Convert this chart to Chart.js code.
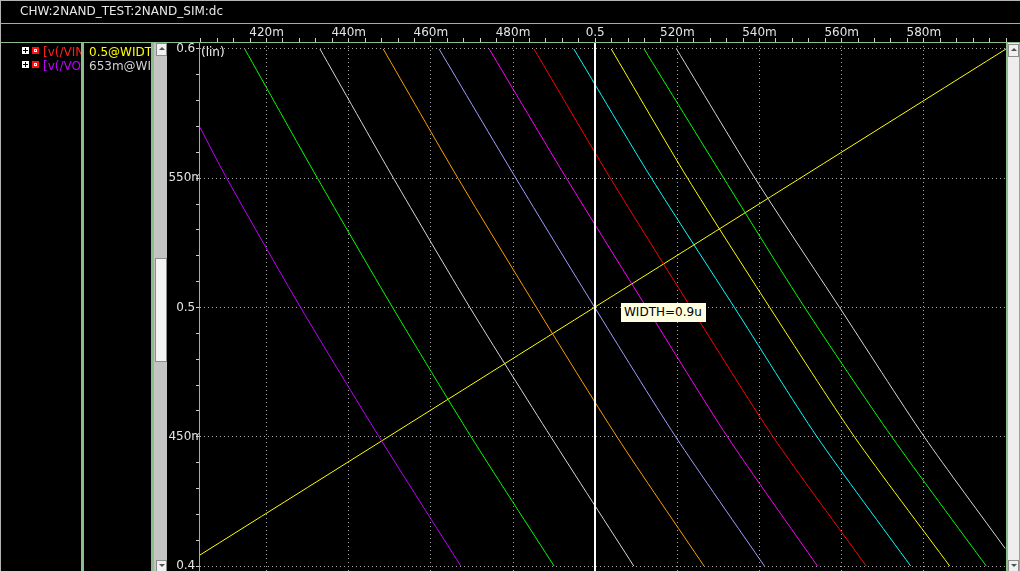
<!DOCTYPE html>
<html>
<head>
<meta charset="utf-8">
<title>CHW:2NAND_TEST:2NAND_SIM:dc</title>
<script src="https://cdn.jsdelivr.net/npm/chart.js@4.4.1/dist/chart.umd.min.js"></script>
<style>
html,body{margin:0;padding:0;background:#000;overflow:hidden}
#wrap{position:relative;width:1020px;height:571px;overflow:hidden;background:#000;font-family:"DejaVu Sans",sans-serif;font-size:12px;line-height:14px;color:#e0e0e0}
#c{position:absolute;left:0;top:0}
.a{position:absolute;white-space:nowrap}
.g{position:absolute;background:#8cbe8c}
.clip{position:absolute;overflow:hidden;white-space:nowrap;height:14px}
.btn{position:absolute;box-sizing:border-box;background:#f0f0f0;border:1px solid #8c8c8c}
.up:after,.dn:after{content:"";position:absolute;left:2px;width:0;height:0;border-left:3px solid transparent;border-right:3px solid transparent}
.up:after{top:3px;border-bottom:3px solid #505050}
.dn:after{top:3px;border-top:3px solid #505050}
.plus{position:absolute;width:7px;height:7px;background:#fff;box-sizing:border-box}
.plus:before{content:"";position:absolute;left:1px;top:3px;width:5px;height:1px;background:#000}
.plus:after{content:"";position:absolute;left:3px;top:1px;width:1px;height:5px;background:#000}
.sq{position:absolute;width:7px;height:7px;background:#ff1010;box-sizing:border-box}
.sq:before{content:"";position:absolute;left:2px;top:2px;width:3px;height:3px;background:#fff}
.sq:after{content:"";position:absolute;left:3px;top:3px;width:1px;height:1px;background:#ff1010}
#cursorLabel{position:absolute;background:#ffffe0;color:#000;height:19px;line-height:19px;padding:0 4px 0 3px;white-space:nowrap}
</style>
</head>
<body>
<div id="wrap">
<canvas id="c" width="1020" height="571"></canvas>

<!-- frame -->
<div class="a" style="left:0;top:0;width:1020px;height:1px;background:#b4b4b4"></div>
<div class="a" style="left:0;top:0;width:1px;height:571px;background:#b4b4b4"></div>
<div class="a" style="left:20px;top:4px;color:#e8e8e8">CHW:2NAND_TEST:2NAND_SIM:dc</div>
<div class="g" style="left:1px;top:23px;width:1019px;height:1px"></div>
<div class="g" style="left:1px;top:42px;width:1019px;height:1px"></div>

<!-- legend panel -->
<div class="plus" style="left:22px;top:47px"></div>
<div class="sq" style="left:32px;top:47px"></div>
<div class="clip" style="left:43px;top:45px;width:38px;color:#ff2020">[v(/VIN)]</div>
<div class="clip" style="left:89px;top:45px;width:62px;color:#ffff00">0.5@WIDTH=0.9u</div>
<div class="plus" style="left:22px;top:61px"></div>
<div class="sq" style="left:32px;top:61px"></div>
<div class="clip" style="left:43px;top:59px;width:38px;color:#c000ff">[v(/VOUT)]</div>
<div class="clip" style="left:89px;top:59px;width:62px;color:#d0d0d0">653m@WIDTH=0.9u</div>

<div class="g" style="left:81px;top:43px;width:3px;height:528px"></div>
<div class="g" style="left:151px;top:43px;width:3px;height:528px"></div>

<!-- left scrollbar -->
<div class="a" style="left:154px;top:43px;width:13px;height:528px;background:#c4c4c4"></div>
<div class="btn up" style="left:156px;top:43px;width:11px;height:13px"></div>
<div class="btn" style="left:155px;top:258px;width:12px;height:104px;background:#f4f4f4"></div>
<div class="btn dn" style="left:156px;top:560px;width:11px;height:12px"></div>

<!-- left axis line and lin label -->
<div class="g" style="left:199px;top:43px;width:1px;height:528px"></div>
<div class="a" style="left:201px;top:45px;color:#f0f0f0">(lin)</div>

<!-- right side -->
<div class="g" style="left:1006px;top:43px;width:2px;height:528px"></div>
<div class="a" style="left:1008px;top:43px;width:11px;height:528px;background:#eeeeee"></div>
<div class="a" style="left:1019px;top:43px;width:1px;height:528px;background:#a0a0a0"></div>
<div class="btn up" style="left:1008px;top:44px;width:11px;height:13px"></div>
<div class="btn dn" style="left:1008px;top:560px;width:11px;height:12px"></div>

<div id="cursorLabel">WIDTH=0.9u</div>
</div>

<script>
// ---- axis ranges (as shown) ----
const xMin = 0.4038, xMax = 0.6;
const yMin = 0.3981, yMax = 0.6027;

// ---- major tick labels ----
const xTickValues = [0.42, 0.44, 0.46, 0.48, 0.5, 0.52, 0.54, 0.56, 0.58];
const xTickLabels = ['420m', '440m', '460m', '480m', '0.5', '520m', '540m', '560m', '580m'];
const yTickValues = [0.4, 0.45, 0.5, 0.55, 0.6];
const yTickLabels = ['0.4', '450m', '0.5', '550m', '0.6'];

// ---- cursor ----
const cursorX = 0.5;
const cursorText = 'WIDTH=0.9u';

// ---- traces [x, y] ----
const vout1  = [[0.4038,0.5697],[0.4103,0.55],[0.4283,0.5],[0.4474,0.45],[0.4673,0.4]];
const vout2  = [[0.4147,0.6],[0.4324,0.55],[0.4507,0.5],[0.4698,0.45],[0.4900,0.4]];
const vout3  = [[0.4330,0.6],[0.4509,0.55],[0.4695,0.5],[0.4892,0.45],[0.5094,0.4]];
const vout4  = [[0.4484,0.6],[0.4666,0.55],[0.4857,0.5],[0.5053,0.45],[0.5265,0.4]];
const vout5  = [[0.4620,0.6],[0.4807,0.55],[0.4999,0.5],[0.5196,0.45],[0.5412,0.4]];
const vout6  = [[0.4742,0.6],[0.4930,0.55],[0.5125,0.5],[0.5322,0.45],[0.5541,0.4]];
const vout7  = [[0.4851,0.6],[0.5037,0.55],[0.5233,0.5],[0.5433,0.45],[0.5660,0.4]];
const vout8  = [[0.4948,0.6],[0.5137,0.55],[0.5339,0.5],[0.5540,0.45],[0.5768,0.4]];
const vout9  = [[0.5039,0.6],[0.5225,0.55],[0.5425,0.5],[0.5631,0.45],[0.5863,0.4]];
const vout10 = [[0.5119,0.6],[0.5313,0.55],[0.5510,0.5],[0.5722,0.45],[0.5952,0.4]];
const vout11 = [[0.5198,0.6],[0.5389,0.55],[0.5595,0.5],[0.5801,0.45],[0.5998,0.4068]];
const vin    = [[0.4038,0.4043],[0.6,0.6]];

const traces = [vout1, vout2, vout3, vout4, vout5, vout6, vout7, vout8, vout9, vout10, vout11, vin];
const traceColors = ['#c000ff','#00ff00','#d8d8d8','#ffa000','#a0a0ff','#ff00ff','#ff0000','#00ffff','#ffff00','#00ff00','#d8d8d8','#ffff00'];

function labelFor(v, vals, labs) {
  for (let i = 0; i < vals.length; i++) if (Math.abs(vals[i] - v) < 1e-9) return labs[i];
  return '';
}
function isMajor(v, vals) {
  return vals.some(t => Math.abs(t - v) < 1e-9) || Math.abs(v - 0.6) < 1e-9;
}
// minor tick positions: every 4m on x, every 10m on y
const xMinor = [];
for (let k = Math.ceil(xMin * 250 - 1e-9); k <= Math.floor(xMax * 250 + 1e-9); k++) xMinor.push(Math.round(k * 4) / 1000);
const yMinor = [];
for (let k = Math.ceil(yMin * 100 - 1e-9); k <= Math.floor(yMax * 100 + 1e-9); k++) yMinor.push(k / 100);

const font = {family: 'DejaVu Sans', size: 12};

const cursorPlugin = {
  id: 'cursor',
  afterDatasetsDraw(chart) {
    const {ctx, chartArea, scales} = chart;
    const px = scales.x.getPixelForValue(cursorX);
    ctx.save();
    ctx.fillStyle = '#ffffff';
    ctx.fillRect(Math.round(px) - 1, chartArea.top + 1, 2, chartArea.bottom - chartArea.top);
    ctx.restore();
    const lab = document.getElementById('cursorLabel');
    lab.textContent = cursorText;
    lab.style.left = (Math.round(px) + 26) + 'px';
    lab.style.top = (Math.round(scales.y.getPixelForValue(0.5)) - 5) + 'px';
  }
};

new Chart(document.getElementById('c'), {
  type: 'line',
  data: {
    datasets: traces.map((t, i) => ({
      data: t.map(p => ({x: p[0], y: p[1]})),
      borderColor: traceColors[i],
      borderWidth: 1,
      pointRadius: 0,
      tension: 0.25,
      fill: false
    }))
  },
  options: {
    responsive: false,
    devicePixelRatio: 1,
    animation: false,
    events: [],
    layout: {padding: {left: 0, right: 14, top: 0, bottom: 0}},
    plugins: {legend: {display: false}, tooltip: {enabled: false}},
    scales: {
      x: {
        type: 'linear', position: 'top', min: xMin, max: xMax,
        afterBuildTicks: s => { s.ticks = xMinor.map(v => ({value: v})); },
        afterFit: s => { s.height = 42; s.paddingLeft = 0; s.paddingRight = 0; },
        ticks: {autoSkip: false, maxRotation: 0, minRotation: 0, padding: -2, color: '#e4e4e4', font,
          callback: v => labelFor(v, xTickValues, xTickLabels)},
        grid: {
          color: c => isMajor(c.tick.value, xTickValues) ? '#a8a8a8' : 'rgba(0,0,0,0)',
          lineWidth: 1, drawTicks: true, tickLength: 4, tickColor: '#d0d0d0', tickWidth: 1, tickBorderDash: []
        },
        border: {display: false, dash: [1, 3]}
      },
      y: {
        type: 'linear', position: 'left', min: yMin, max: yMax,
        afterBuildTicks: s => { s.ticks = yMinor.map(v => ({value: v})); },
        afterFit: s => { s.width = 200; s.paddingTop = 0; s.paddingBottom = 0; },
        ticks: {autoSkip: false, padding: -7, crossAlign: 'center', color: '#e4e4e4', font,
          callback: v => labelFor(v, yTickValues, yTickLabels)},
        grid: {
          color: c => isMajor(c.tick.value, yTickValues) ? '#a8a8a8' : 'rgba(0,0,0,0)',
          lineWidth: 1, drawTicks: true, tickLength: 4, tickColor: '#d0d0d0', tickWidth: 1, tickBorderDash: []
        },
        border: {display: false, dash: [1, 3]}
      }
    }
  },
  plugins: [cursorPlugin]
});
</script>
</body>
</html>
